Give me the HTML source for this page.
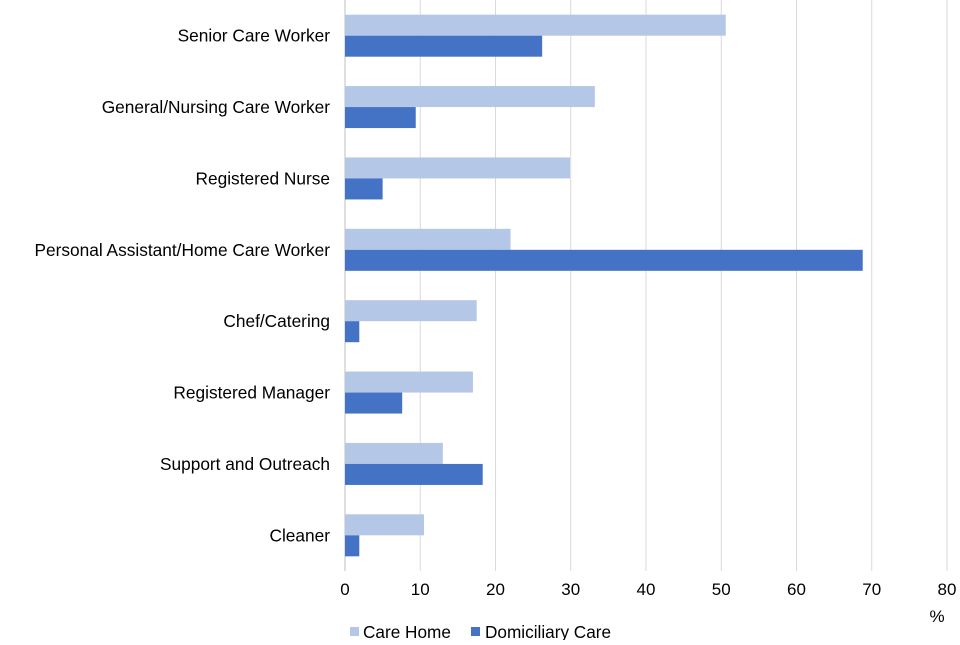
<!DOCTYPE html>
<html><head><meta charset="utf-8"><style>
body{margin:0;background:#fff;font-family:"Liberation Sans",Arial,sans-serif;}
svg text{font-family:"Liberation Sans",Arial,sans-serif;fill:#000;}
</style></head><body>
<svg id="chart" width="960" height="640"></svg>
<script>
const categories=["Senior Care Worker","General/Nursing Care Worker","Registered Nurse","Personal Assistant/Home Care Worker","Chef/Catering","Registered Manager","Support and Outreach","Cleaner"];
const careHome=[50.6,33.2,29.9,22.0,17.5,17.0,13.0,10.5];
const domiciliary=[26.2,9.4,5.0,68.8,1.9,7.6,18.3,1.9];
const ticks=[0,10,20,30,40,50,60,70,80];
const NS="http://www.w3.org/2000/svg";
const svgEl=document.getElementById('chart');
const x0=345,x1=947,plotTop=0,plotBottom=571;
const xs=v=>x0+(x1-x0)*v/80;
const band=(plotBottom-plotTop)/categories.length;
function mk(t,a,txt){const e=document.createElementNS(NS,t);for(const k in a)e.setAttribute(k,a[k]);if(txt!==undefined)e.textContent=txt;svgEl.appendChild(e);return e;}
ticks.forEach(t=>{
  const g=mk('line',{x1:xs(t),x2:xs(t),y1:plotTop,y2:plotBottom,stroke:t===0?'#bfbfbf':'#d9d9d9','stroke-width':1});
  
  
  const l=mk('text',{x:xs(t),y:595,'text-anchor':'middle','font-size':17},String(t));
  
  
});
categories.forEach((c,i)=>{
  const cy=plotTop+band*(i+0.5);
  const l=mk('text',{x:330,y:cy+6,'text-anchor':'end','font-size':17.3},c);
  
  
  const b1=mk('rect',{x:x0,y:cy-21,width:xs(careHome[i])-x0,height:21,fill:'#b4c7e7'});
  
  
  const b2=mk('rect',{x:x0,y:cy,width:xs(domiciliary[i])-x0,height:21,fill:'#4472c4'});
  
  
});
const u=mk('text',{x:937,y:622,'text-anchor':'middle','font-size':17},'%');


const s1=mk('rect',{x:350,y:627,width:9,height:9,fill:'#b4c7e7'});


const t1=mk('text',{x:363,y:638,'font-size':17.2},'Care Home');


const s2=mk('rect',{x:471,y:627,width:9,height:9,fill:'#4472c4'});


const t2=mk('text',{x:485,y:638,'font-size':17.2},'Domiciliary Care');


</script>
</body></html>
